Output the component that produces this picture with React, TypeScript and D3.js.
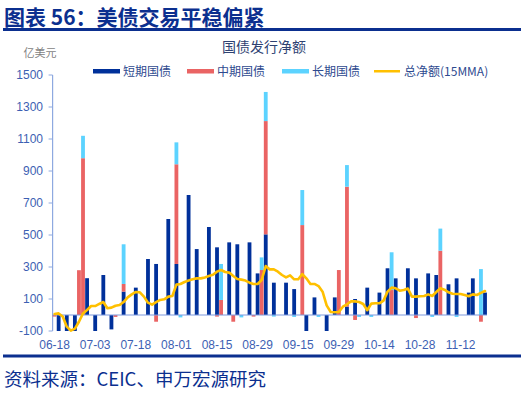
import React from 'react';
import * as d3 from 'd3';

// business days, 2025-06-18 .. 2025-11-20
const dates = [
  '06-18', '06-20', '06-23', '06-24', '06-25', '06-26', '06-27', '06-30', '07-01', '07-02',
  '07-03', '07-07', '07-08', '07-09', '07-10', '07-11', '07-14', '07-15', '07-16', '07-17',
  '07-18', '07-21', '07-22', '07-23', '07-24', '07-25', '07-28', '07-29', '07-30', '07-31',
  '08-01', '08-04', '08-05', '08-06', '08-07', '08-08', '08-11', '08-12', '08-13', '08-14',
  '08-15', '08-18', '08-19', '08-20', '08-21', '08-22', '08-25', '08-26', '08-27', '08-28',
  '08-29', '09-02', '09-03', '09-04', '09-05', '09-08', '09-09', '09-10', '09-11', '09-12',
  '09-15', '09-16', '09-17', '09-18', '09-19', '09-22', '09-23', '09-24', '09-25', '09-26',
  '09-29', '09-30', '10-01', '10-02', '10-03', '10-06', '10-07', '10-08', '10-09', '10-10',
  '10-14', '10-15', '10-16', '10-17', '10-20', '10-21', '10-22', '10-23', '10-24', '10-27',
  '10-28', '10-29', '10-30', '10-31', '11-03', '11-04', '11-05', '11-06', '11-07', '11-10',
  '11-12', '11-13', '11-14', '11-17', '11-18', '11-19', '11-20',
];

// 短期国债
const shortTerm = [
  0, -100, 0, -100, 0, -100, 0, 0, 230, 0,
  -100, 0, 250, 0, -90, 0, 0, 146, 0, 0,
  171, 0, 0, 350, 0, 319, 0, 0, 600, 0,
  319, 0, 0, 750, 0, 412, 0, 0, 550, 0,
  423, 0, 0, 454, 0, 442, 0, 0, 454, 0,
  260, 0, 504, 0, 202, 0, 0, 202, 0, 162,
  0, 0, -100, 0, 110, 0, 0, -100, 0, 110,
  0, 0, 52, 0, 100, 0, 0, 171, 0, 0,
  140, 0, 292, 0, 229, 0, 0, 292, 0, 229,
  0, 0, 260, 0, 250, 0, 0, 192, 0, 229,
  0, 0, 140, 229, 0, 0, 140,
];

// 中期国债
const midTerm = [
  -10, 0, 0, 0, 0, 0, 280, 980, 0, 0,
  0, 0, 0, 0, 0, -12, 0, 48, 0, 0,
  0, 0, 0, 0, 0, -42, 0, 0, 0, 0,
  623, 0, 0, 0, 0, 0, 0, 0, 0, 0,
  -10, 94, 0, 0, -42, 0, 0, 0, 0, -10,
  0, 281, 708, 0, 0, 0, 0, 0, 0, 0,
  0, 562, 0, 0, 0, 0, 0, 0, 0, 0,
  281, 0, 750, 0, -31, 0, 0, 0, 0, 0,
  0, 0, 0, 156, 0, 0, 0, 0, 0, -19,
  0, 0, 0, 0, 0, 402, 0, 0, 0, 0,
  0, 0, 0, 0, 0, -42, 0,
];

// 长期国债
const longTerm = [
  0, 0, 0, 0, 0, 0, 0, 140, 0, 0,
  0, 0, 0, 0, 0, 0, 0, 248, 0, 0,
  0, 0, 0, 0, 0, 0, 0, 0, 0, 0,
  137, -15, 0, 0, 0, 0, 0, 0, 0, 0,
  0, 225, 0, 0, 0, 0, -15, 0, 0, 0,
  0, 79, 182, 0, -10, 0, 0, 0, 0, -12,
  0, 219, 0, 0, 0, -12, 0, 0, 0, 0,
  0, 0, 135, 0, 0, -12, 0, 0, -12, 0,
  0, 0, 0, 236, 0, 0, 0, 0, 0, 0,
  0, 0, 0, -12, 0, 138, 0, 0, 0, -12,
  0, 0, 0, 0, 0, 287, 0,
];

// 总净额(15MMA)
const netMA = [
  6, 10, -10, -73, -98, -85, -42, 10, 31, 56,
  56, 69, 81, 42, 46, 58, 62, 81, 110, 129,
  144, 142, 115, 77, 65, 81, 94, 98, 115, 119,
  190, 194, 206, 215, 223, 229, 229, 235, 244, 252,
  271, 281, 269, 265, 244, 225, 221, 215, 202, 194,
  194, 219, 306, 285, 285, 271, 250, 235, 248, 223,
  223, 256, 229, 194, 194, 181, 146, 60, 19, 17,
  19, 52, 67, 85, 85, 81, 69, 30, 71, 73,
  73, 90, 146, 171, 167, 152, 156, 165, 115, 115,
  117, 119, 129, 119, 144, 167, 158, 142, 133, 131,
  131, 125, 117, 129, 125, 138, 150,
];

const yTicks = [-100, 100, 300, 500, 700, 900, 1100, 1300, 1500];
const seriesNames = ['短期国债', '中期国债', '长期国债'];
const lineName = '总净额(15MMA)';

const colors = ['#00309a', '#ea6464', '#5cd3ff'];
const lineColor = '#ffc000';
const navy = '#0b2f8f';
const font = '"Liberation Sans", Arial, "Noto Sans CJK SC", sans-serif';
const cjk = '"Noto Sans CJK SC", sans-serif';

export default function App() {
  const W = 531;
  const H = 394;
  const left = 52.6;
  const right = 487;

  const x = d3.scaleBand<number>()
    .domain(d3.range(dates.length))
    .range([left, right])
    .paddingInner(0.06)
    .paddingOuter(0.02);
  const y = d3.scaleLinear().domain([-100, 1500]).range([331, 75]);

  const rows = dates.map((d, i) => ({ s: shortTerm[i], m: midTerm[i], l: longTerm[i] }));
  const stacked = d3.stack<any>()
    .keys(['s', 'm', 'l'])
    .offset(d3.stackOffsetDiverging)(rows);

  const line = d3.line<number>()
    .x((_, i) => (x(i) as number) + x.bandwidth() / 2)
    .y(v => y(v));

  const legend = [
    { x: 93, label: seriesNames[0], color: colors[0], w: 27 },
    { x: 187, label: seriesNames[1], color: colors[1], w: 27 },
    { x: 282, label: seriesNames[2], color: colors[2], w: 27 },
  ];

  return (
    <svg width={W} height={H} style={{ position: 'absolute', left: 0, top: 0, background: '#fff' }}
      fontFamily={font}>
      <text x={4} y={24.5} fontSize={21} fontWeight="bold" fill={navy} fontFamily={cjk}>图表 56：美债交易平稳偏紧</text>
      <rect x={3} y={28} width={518} height={3} fill={navy} />

      <text x={264} y={52} fontSize={14} textAnchor="middle" fill="#2e4272" fontFamily={cjk}>国债发行净额</text>
      <text x={40} y={57} fontSize={11} textAnchor="middle" fill="#7f7f7f" fontFamily={cjk}>亿美元</text>

      {legend.map(l => (
        <g key={l.label}>
          <rect x={l.x} y={69} width={l.w} height={4.5} fill={l.color} />
          <text x={l.x + 30} y={75.5} fontSize={12} fill="#2e4a8f" fontFamily={cjk}>{l.label}</text>
        </g>
      ))}
      <rect x={374} y={70} width={26} height={2.5} fill={lineColor} />
      <text x={404} y={75.5} fontSize={12} fill="#2e4a8f" fontFamily={cjk}>{lineName}</text>

      {/* y axis */}
      <line x1={left} x2={left} y1={y(1500)} y2={y(-100)} stroke="#8ea9e0" strokeWidth={1.2} />
      {yTicks.map(t => (
        <g key={t}>
          <line x1={left - 4} x2={left} y1={y(t)} y2={y(t)} stroke="#8ea9e0" strokeWidth={1} />
          <text x={43} y={y(t) + 4} fontSize={12} textAnchor="end" fill="#3d5fb3">{t}</text>
        </g>
      ))}

      {/* bars */}
      {stacked.map((layer, k) => (
        <g key={k} fill={colors[k]}>
          {layer.map((d, i) => {
            if (d[1] === d[0]) return null;
            const y0 = y(Math.max(d[0], d[1]));
            const y1 = y(Math.min(d[0], d[1]));
            return <rect key={i} x={x(i)} y={y0} width={x.bandwidth()} height={y1 - y0} />;
          })}
        </g>
      ))}

      {/* zero axis */}
      <line x1={left} x2={right} y1={y(0)} y2={y(0)} stroke="#7f9ade" strokeWidth={1.2} />

      <path d={line(netMA) || ''} fill="none" stroke={lineColor} strokeWidth={2.6}
        strokeLinejoin="round" strokeLinecap="round" />

      {dates.map((d, i) => i % 10 === 0 ? (
        <text key={d} x={(x(i) as number) + x.bandwidth() / 2} y={349} fontSize={12}
          textAnchor="middle" fill="#3d5fb3">{d}</text>
      ) : null)}

      <rect x={3} y={354.5} width={518} height={3} fill={navy} />
      <text x={4} y={386} fontSize={18.5} fill={navy} fontFamily={cjk}>资料来源：CEIC、申万宏源研究</text>
    </svg>
  );
}
